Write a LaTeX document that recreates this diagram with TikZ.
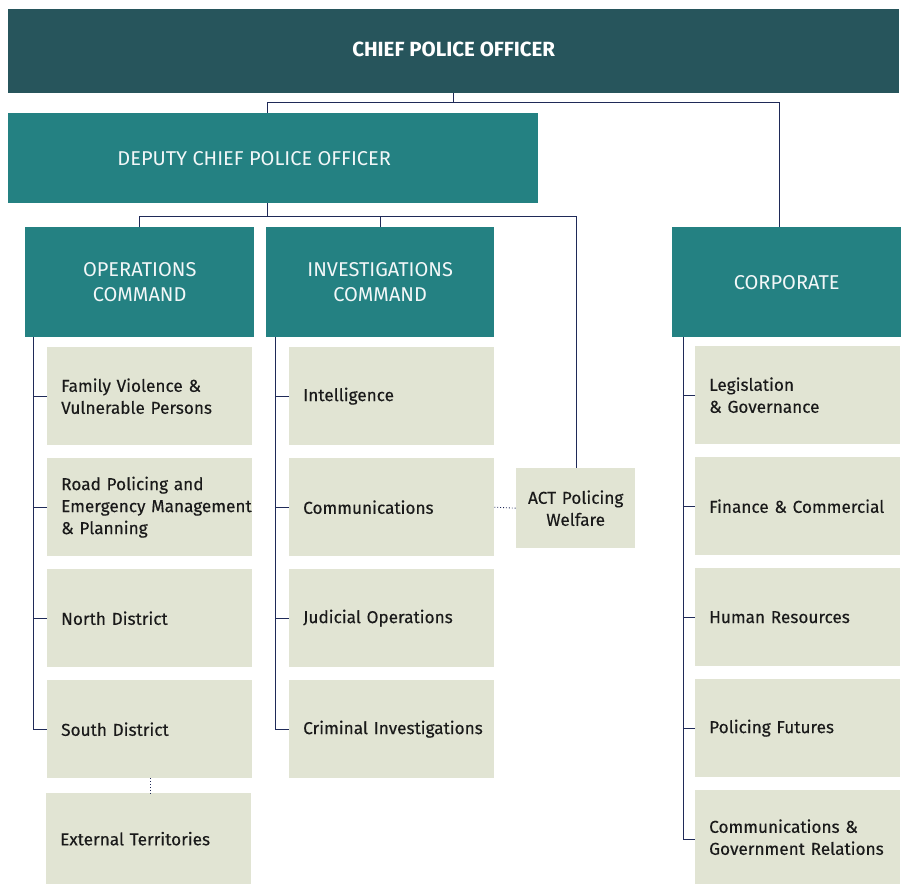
\documentclass[tikz,border=0pt]{standalone}
\usepackage{fontspec}
\setmainfont{Fira Sans}
\newfontfamily\unitfont[FakeBold=0.25]{Fira Sans}
\usetikzlibrary{positioning}

\definecolor{chiefteal}{HTML}{27555C}
\definecolor{headteal}{HTML}{248182}
\definecolor{unitgrey}{HTML}{E1E4D3}
\definecolor{linkblue}{HTML}{1F2A58}
\definecolor{inktext}{HTML}{1A1A1A}

\tikzset{
  chiefbox/.style={fill=chiefteal, text=white, minimum width=891pt, minimum height=84pt,
    inner sep=0pt, font=\fontsize{20.5}{25}\selectfont\bfseries},
  headbox/.style={fill=headteal, text=white!94!headteal, minimum height=110pt,
    inner sep=0pt, align=center, font=\fontsize{20}{25}\selectfont},
  unitbox/.style={fill=unitgrey, text=inktext, minimum height=98pt, inner xsep=14pt,
    inner ysep=0pt, text width=177pt, align=left, font=\unitfont\fontsize{17.2}{22}\selectfont},
  link/.style={draw=linkblue, line width=0.9pt},
  dotlink/.style={draw=linkblue, line width=0.9pt, dotted}
}

\begin{document}
\begin{tikzpicture}[x=1pt, y=-1pt]
  \useasboundingbox (0,0) rectangle (901,885);

  % top of the tree
  \node[chiefbox, anchor=north west] (chief) at (8,9) {\raisebox{3pt}{CHIEF POLICE OFFICER}};
  \node[headbox, anchor=north west, minimum width=530pt, minimum height=90pt,
    label={[headbox, fill=none, minimum height=0pt, xshift=-19pt]center:DEPUTY CHIEF POLICE OFFICER}]
    (deputy) at (8,113) {};

  % commands
  \node[headbox, anchor=north west, minimum width=229pt] (ops) at (25,227) {OPERATIONS\\COMMAND};
  \node[headbox, anchor=north west, minimum width=228pt] (inv) at (266,227) {INVESTIGATIONS\\COMMAND};
  \node[headbox, anchor=north west, minimum width=229pt] (corp) at (672,227) {CORPORATE};

  % operations units
  \node[unitbox, anchor=north west] (fvp) at (47,347) {Family Violence \&\\Vulnerable Persons};
  \node[unitbox, anchor=north west] (road) at (47,458)
    {Road Policing and\\\mbox{Emergency Management}\\\& Planning};
  \node[unitbox, anchor=north west] (north) at (47,569) {North District};
  \node[unitbox, anchor=north west] (south) at (47,680) {South District};
  \node[unitbox, anchor=north west, minimum height=91pt] (ext) at (46,793) {External Territories};

  % investigations units
  \node[unitbox, anchor=north west] (intel) at (289,347) {Intelligence};
  \node[unitbox, anchor=north west] (comms) at (289,458) {Communications};
  \node[unitbox, anchor=north west] (judicial) at (289,569) {Judicial Operations};
  \node[unitbox, anchor=north west] (crim) at (289,680) {\mbox{Criminal Investigations}};

  \node[unitbox, anchor=north west, text width=119pt, inner xsep=0pt, minimum height=80pt,
    align=center] (welfare) at (516,468) {ACT Policing\\Welfare};

  % corporate units
  \node[unitbox, anchor=north west] (legis) at (695,346) {Legislation\\\& Governance};
  \node[unitbox, anchor=north west] (finance) at (695,457) {\mbox{Finance \& Commercial}};
  \node[unitbox, anchor=north west] (hr) at (695,568) {Human Resources};
  \node[unitbox, anchor=north west] (futures) at (695,679) {Policing Futures};
  \node[unitbox, anchor=north west, minimum height=94pt] (govrel) at (695,790)
    {Communications \&\\\mbox{Government Relations}};

  % chief -> deputy and corporate
  \coordinate (bus1) at ([yshift=-9pt]chief.south);
  \draw[link] (chief.south) -- (bus1);
  \draw[link] ([xshift=-6pt]deputy.north) |- (bus1) -| ([xshift=-7pt]corp.north);

  % deputy -> commands and welfare
  \coordinate (bus2) at ([xshift=-6pt, yshift=-13pt]deputy.south);
  \draw[link] ([xshift=-6pt]deputy.south) -- (bus2);
  \draw[link] (ops.north) |- (bus2) -| ([xshift=1pt]welfare.north);
  \draw[link] (inv.north) -- (inv.north |- bus2);

  % spines down the left of each column
  \coordinate (opsline) at ([xshift=8pt]ops.south west);
  \coordinate (invline) at ([xshift=9pt]inv.south west);
  \coordinate (corpline) at ([xshift=11pt]corp.south west);
  \draw[link] (opsline) |- (south.west);
  \draw[link] (invline) |- (crim.west);
  \draw[link] (corpline) |- ([yshift=-2pt]govrel.west);

  \foreach \unit in {fvp, road, north}
    \draw[link] (\unit.west) -- (\unit.west -| opsline);
  \foreach \unit in {intel, comms, judicial}
    \draw[link] (\unit.west) -- (\unit.west -| invline);
  \foreach \unit in {legis, finance, hr, futures}
    \draw[link] (\unit.west) -- (\unit.west -| corpline);

  % dotted ties
  \coordinate (extgap) at ([xshift=1pt]south.south);
  \draw[dotlink] (extgap) -- (extgap |- ext.north);
  \draw[dotlink] (comms.east) -- (welfare.west);
\end{tikzpicture}
\end{document}
